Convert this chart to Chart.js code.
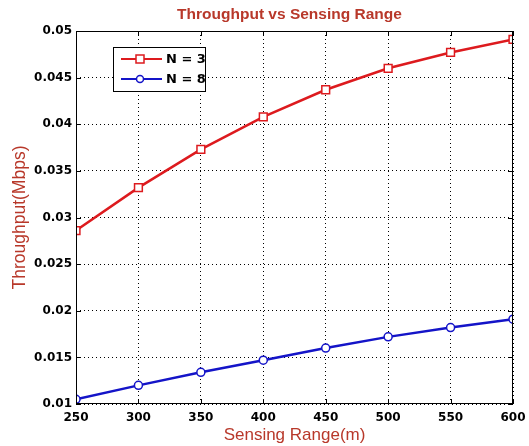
<!DOCTYPE html>
<html>
<head>
<meta charset="utf-8">
<script src="https://cdn.jsdelivr.net/npm/chart.js@4.4.0/dist/chart.umd.min.js"></script>
<style>
  html, body { margin: 0; padding: 0; background: #fff; }
  #wrap { width: 529px; height: 446px; }
</style>
</head>
<body>
<div id="wrap"><canvas id="myChart" width="529" height="446"></canvas></div>
<script>
var ranges = [250, 300, 350, 400, 450, 500, 550, 600];
var throughputN3 = [0.0286, 0.0332, 0.0373, 0.0408, 0.0437, 0.0460, 0.0477, 0.0491];
var throughputN8 = [0.0105, 0.0120, 0.0134, 0.0147, 0.0160, 0.0172, 0.0182, 0.0191];
var seriesLabels = ["N = 3", "N = 8"];
var chartTitle = "Throughput vs Sensing Range";

var titleColor = "#b8382a";
var tickFont = { family: "DejaVu Sans", size: 12, weight: "bold" };

function toPoints(ys) {
  return ranges.map(function (x, i) { return { x: x, y: ys[i] }; });
}

// frame, inward ticks, title over the plot area and the legend box
var framePlugin = {
  id: "frame",
  afterDraw: function (chart) {
    var ctx = chart.ctx, a = chart.chartArea;
    var xs = chart.scales.x, ys = chart.scales.y;
    ctx.save();
    ctx.strokeStyle = "#000";
    ctx.lineWidth = 1;
    ctx.strokeRect(a.left + 0.5, a.top + 0.5, a.right - a.left - 1, a.bottom - a.top - 1);
    ctx.beginPath();
    xs.ticks.forEach(function (t) {
      var px = Math.round(xs.getPixelForValue(t.value)) + 0.5;
      ctx.moveTo(px, a.bottom); ctx.lineTo(px, a.bottom - 5);
      ctx.moveTo(px, a.top); ctx.lineTo(px, a.top + 5);
    });
    ys.ticks.forEach(function (t) {
      var py = Math.round(ys.getPixelForValue(t.value)) + 0.5;
      ctx.moveTo(a.left, py); ctx.lineTo(a.left + 5, py);
      ctx.moveTo(a.right, py); ctx.lineTo(a.right - 5, py);
    });
    ctx.stroke();

    // title
    ctx.fillStyle = titleColor;
    ctx.font = "bold 15.5px 'Liberation Sans'";
    ctx.textAlign = "center";
    ctx.textBaseline = "middle";
    ctx.fillText(chartTitle, (a.left + a.right) / 2 - 5, 15);

    // legend
    var bx = 113, by = 47, bw = 92, bh = 44;
    ctx.textAlign = "left";
    ctx.fillStyle = "#fff";
    ctx.fillRect(bx, by, bw, bh);
    ctx.strokeStyle = "#000";
    ctx.lineWidth = 1;
    ctx.strokeRect(bx + 0.5, by + 0.5, bw, bh);
    chart.data.datasets.forEach(function (ds, i) {
      var y = by + 12 + i * 20;
      ctx.strokeStyle = ds.borderColor;
      ctx.lineWidth = 2;
      ctx.beginPath();
      ctx.moveTo(bx + 8, y); ctx.lineTo(bx + 49, y);
      ctx.stroke();
      ctx.lineWidth = 1.5;
      if (ds.pointStyle === "rect") {
        ctx.fillStyle = "#fff";
        ctx.fillRect(bx + 23, y - 4, 8, 8);
        ctx.strokeRect(bx + 23, y - 4, 8, 8);
      } else {
        ctx.fillStyle = "#fff";
        ctx.beginPath();
        ctx.arc(bx + 27, y, 3.5, 0, Math.PI * 2);
        ctx.fill(); ctx.stroke();
      }
      ctx.fillStyle = "#000";
      ctx.font = "bold 13px 'DejaVu Sans'";
      ctx.textBaseline = "middle";
      ctx.fillText(ds.label, bx + 53, y + 1);
    });
    ctx.restore();
  }
};

new Chart(document.getElementById("myChart"), {
  type: "line",
  data: {
    datasets: [
      {
        label: seriesLabels[0],
        data: toPoints(throughputN3),
        borderColor: "#dd1a1e",
        backgroundColor: "#fff",
        borderWidth: 2.5,
        pointStyle: "rect",
        pointRadius: 5.5,
        pointBorderWidth: 1.5,
        fill: false,
        tension: 0
      },
      {
        label: seriesLabels[1],
        data: toPoints(throughputN8),
        borderColor: "#1414c8",
        backgroundColor: "#fff",
        borderWidth: 2.5,
        pointStyle: "circle",
        pointRadius: 4,
        pointBorderWidth: 1.5,
        fill: false,
        tension: 0
      }
    ]
  },
  options: {
    responsive: false,
    animation: false,
    layout: { padding: { left: 0, right: 16, top: 31, bottom: 0 } },
    plugins: {
      legend: { display: false },
      tooltip: { enabled: false },
      title: { display: false }
    },
    scales: {
      x: {
        type: "linear",
        min: 250,
        max: 600,
        afterFit: function (s) { s.height = 42; s.paddingRight = 0; s.paddingLeft = 0; },
        ticks: { stepSize: 50, color: "#000", font: tickFont, padding: 7, maxRotation: 0 },
        grid: { color: "#000", lineWidth: 1, drawTicks: false, tickLength: 0 },
        border: { display: false, dash: [1, 3] },
        title: {
          display: true,
          text: "Sensing Range(m)",
          color: titleColor,
          font: { family: "Liberation Sans", size: 17 },
          padding: { top: 0, bottom: 0 }
        }
      },
      y: {
        min: 0.01,
        max: 0.05,
        afterFit: function (s) { s.width = 76; },
        ticks: {
          stepSize: 0.005,
          color: "#000",
          font: tickFont,
          padding: 4,
          callback: function (v) { return String(Number(v.toFixed(3))); }
        },
        grid: { color: "#000", lineWidth: 1, drawTicks: false, tickLength: 0 },
        border: { display: false, dash: [1, 3] },
        title: {
          display: true,
          text: "Throughput(Mbps)",
          color: titleColor,
          font: { family: "Liberation Sans", size: 17.5 },
          padding: { top: 10, bottom: 0 }
        }
      }
    }
  },
  plugins: [framePlugin]
});
</script>
</body>
</html>
